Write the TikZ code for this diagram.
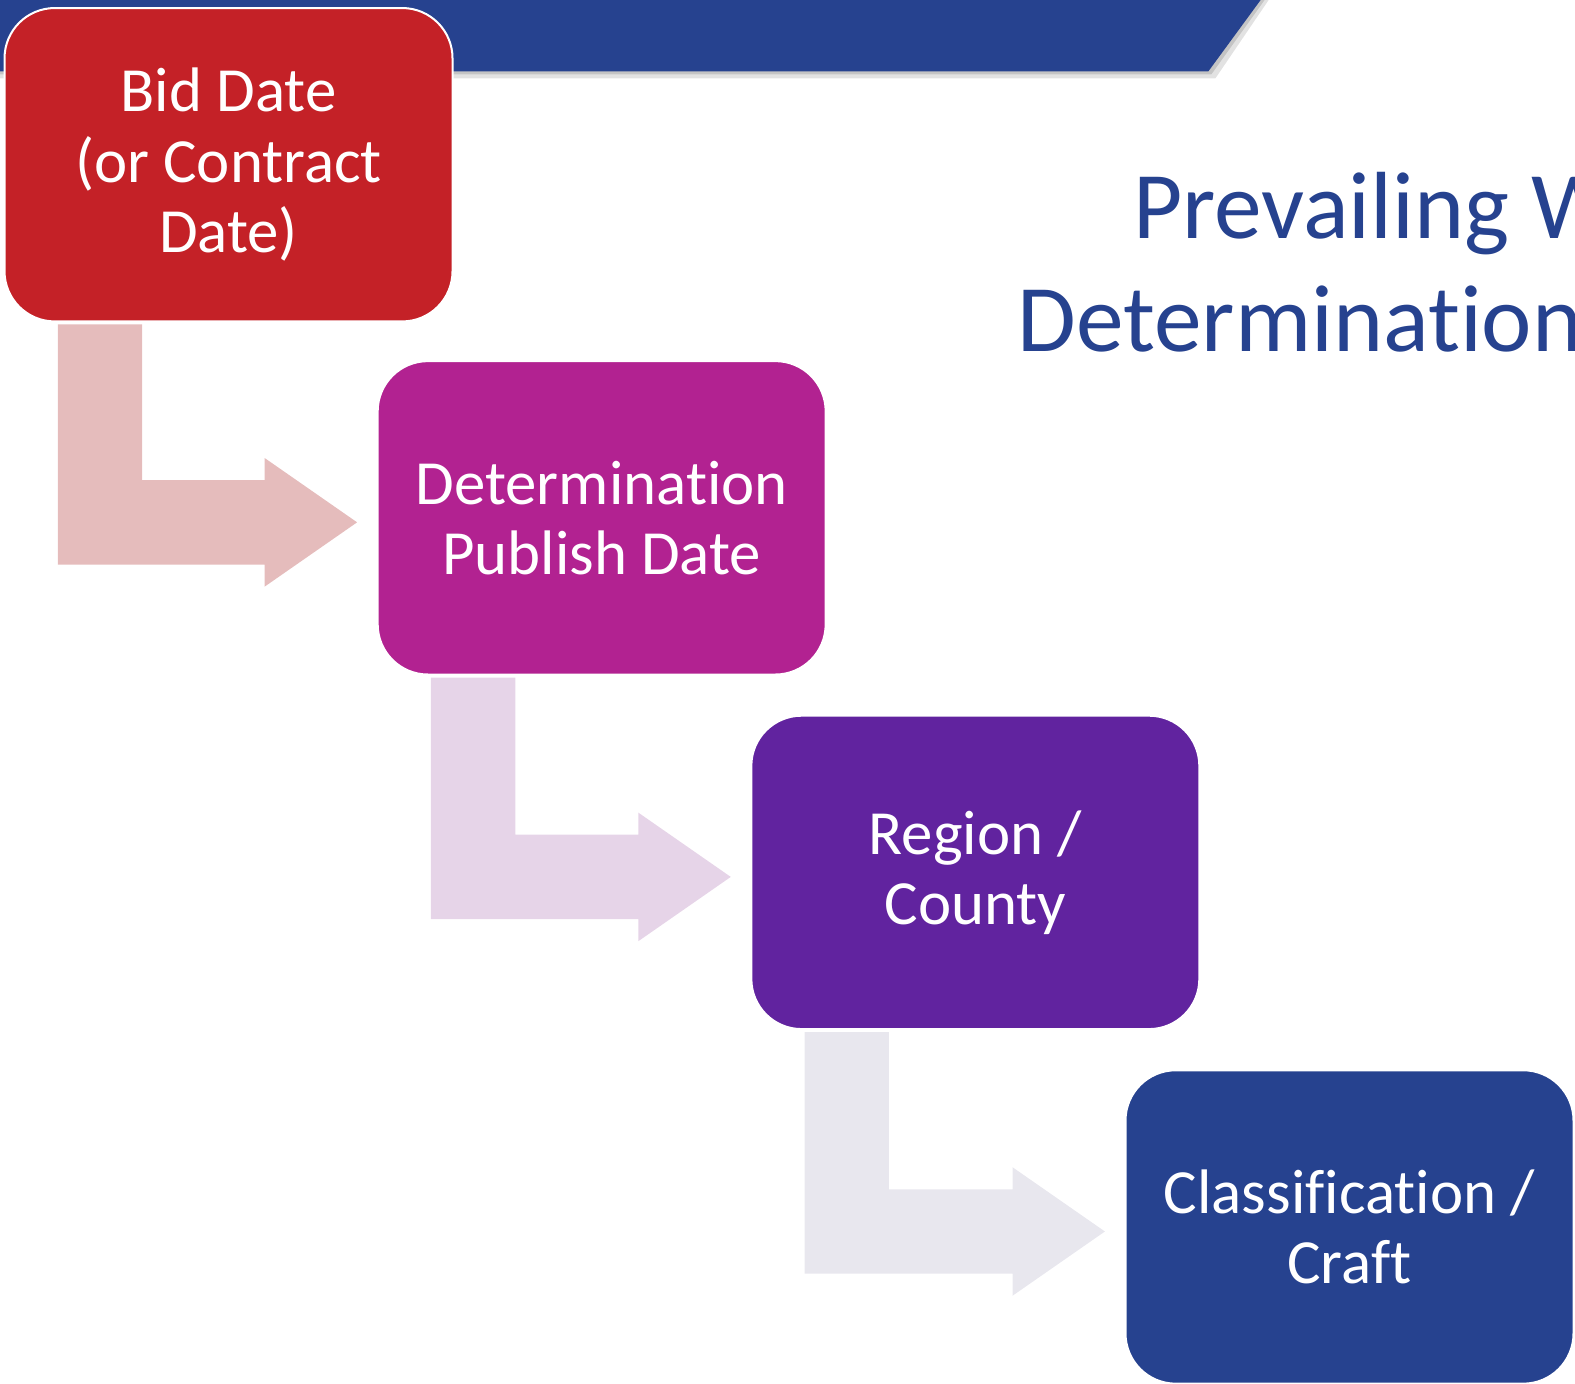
\documentclass[tikz,border=0pt]{standalone}
\usepackage{fontspec}
\setmainfont{Carlito}[Ligatures={NoCommon,NoRequired,NoContextual},RawFeature={-liga;-dlig}]
\usetikzlibrary{calc}
\definecolor{bannerblue}{HTML}{26428F}
\definecolor{boxred}{HTML}{C42127}
\definecolor{boxmag}{HTML}{B22291}
\definecolor{boxpur}{HTML}{61239F}
\definecolor{arrowA}{HTML}{E5BCBC}
\definecolor{arrowB}{HTML}{E6D4E8}
\definecolor{arrowC}{HTML}{E8E7EE}
\tikzset{
  stepbox/.style={rectangle, rounded corners=50pt, draw=white, line width=2pt,
    minimum width=446pt, minimum height=312pt, inner sep=0pt, outer sep=0pt,
    text=white, align=center, font=\fontsize{62.6}{70}\selectfont},
  titletext/.style={text=bannerblue, anchor=base west, inner sep=0pt, outer sep=0pt,
    font=\fontsize{95}{113}\selectfont},
}
\newcommand{\bendarrow}[3]{%
  \fill[#3] let \p1=(#1.south west), \p2=(#2.west) in
    (\x1+53pt,\y1-3pt) -- (\x1+137pt,\y1-3pt) -- (\x1+137pt,\y2+37.5pt)
    -- (\x2-112.5pt,\y2+37.5pt) -- (\x2-112.5pt,\y2+59.5pt)
    -- (\x2-20.5pt,\y2-4.5pt)
    -- (\x2-112.5pt,\y2-68.5pt) -- (\x2-112.5pt,\y2-46.5pt)
    -- (\x1+53pt,\y2-46.5pt) -- cycle;}
\begin{document}
\begin{tikzpicture}[x=1pt,y=-1pt]
\useasboundingbox (0,0) rectangle (1568,1377);
\begin{scope}
\clip (0,0) rectangle (1568,1377);
% banner shadow
\fill[black!45, opacity=0.25] (0,0) -- (1263,0) -- (1210,78) -- (0,78) -- cycle;
\fill[black!45, opacity=0.35] (0,0) -- (1259,0) -- (1206,74) -- (0,74) -- cycle;
% banner
\fill[bannerblue] (0,0) -- (1255,0) -- (1203,71) -- (0,71) -- cycle;
% title
\node[titletext] (title1) at (1128,237) {Prevailing W};
\node[titletext] (title2) at (1013,350) {Determination};
\end{scope}
% boxes
\node[stepbox, fill=boxred] (b1) at (227.5,164) {Bid Date\\(or Contract\\Date)};
\node[stepbox, fill=boxmag] (b2) at (599,515.5) {Determination\\Publish Date};
\node[stepbox, fill=boxpur] (b3) at (971,868.5) {Region /\\County};
\node[stepbox, fill=bannerblue] (b4) at (1343.5,1221.5) {Classification /\\Craft};
% connectors
\bendarrow{b1}{b2}{arrowA}
\bendarrow{b2}{b3}{arrowB}
\bendarrow{b3}{b4}{arrowC}
\end{tikzpicture}
\end{document}
